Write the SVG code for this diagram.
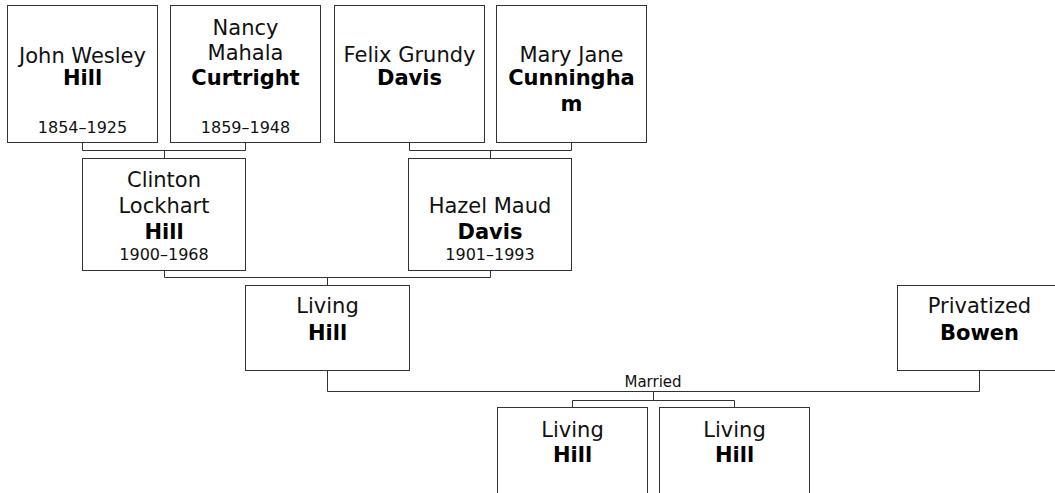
<svg xmlns="http://www.w3.org/2000/svg" width="1055" height="493" viewBox="0 0 1055 493">
<style>
rect.box{fill:#fff;stroke:#333;stroke-width:1}
.n{font-family:"DejaVu Sans",Verdana,sans-serif;font-size:21px;fill:#111;text-anchor:middle}
.s{font-weight:bold;fill:#000}
.y{font-family:"DejaVu Sans",Verdana,sans-serif;font-size:16px;fill:#111;text-anchor:middle}
.lbl{font-family:"DejaVu Sans",Verdana,sans-serif;font-size:15px;fill:#111;text-anchor:middle}
#connectors path{fill:none;stroke:#333;stroke-width:1}
</style>
<rect width="1055" height="493" fill="#fff"/>
<g id="connectors">
<path d="M82.5 142.5V150.5H245.5V142.5M164.5 150.5V158.5"/>
<path d="M409.5 142.5V150.5H571.5V142.5M490.5 150.5V158.5"/>
<path d="M164.5 270.5V277.5H490.5V270.5M327.5 277.5V285.5"/>
<path d="M327.5 370.5V391.5H979.5V370.5"/>
<path d="M653.5 391.5V400.5M572.5 407.5V400.5H734.5V407.5"/>
<text class="lbl" x="653" y="387">Married</text>
</g>
<g id="john">
<rect class="box" x="7.5" y="5.5" width="150" height="137"/>
<text class="n" x="82.5" y="63">John Wesley</text>
<text class="n s" x="82.5" y="85">Hill</text>
<text class="y" x="82.5" y="133">1854–1925</text>
</g>
<g id="nancy">
<rect class="box" x="170.5" y="5.5" width="150" height="137"/>
<text class="n" x="245.5" y="35">Nancy</text>
<text class="n" x="245.5" y="60">Mahala</text>
<text class="n s" x="245.5" y="85">Curtright</text>
<text class="y" x="245.5" y="133">1859–1948</text>
</g>
<g id="felix">
<rect class="box" x="334.5" y="5.5" width="150" height="137"/>
<text class="n" x="409.5" y="62">Felix Grundy</text>
<text class="n s" x="409.5" y="85">Davis</text>
</g>
<g id="mary">
<rect class="box" x="496.5" y="5.5" width="150" height="137"/>
<text class="n" x="571.5" y="62">Mary Jane</text>
<text class="n s" x="571.5" y="85">Cunningha</text>
<text class="n s" x="571.5" y="111">m</text>
</g>
<g id="clinton">
<rect class="box" x="82.5" y="158.5" width="163" height="112"/>
<text class="n" x="164" y="187">Clinton</text>
<text class="n" x="164" y="213">Lockhart</text>
<text class="n s" x="164" y="239">Hill</text>
<text class="y" x="164" y="260">1900–1968</text>
</g>
<g id="hazel">
<rect class="box" x="408.5" y="158.5" width="163" height="112"/>
<text class="n" x="490" y="213">Hazel Maud</text>
<text class="n s" x="490" y="239">Davis</text>
<text class="y" x="490" y="260">1901–1993</text>
</g>
<g id="living">
<rect class="box" x="245.5" y="285.5" width="164" height="85"/>
<text class="n" x="327.5" y="313">Living</text>
<text class="n s" x="327.5" y="340">Hill</text>
</g>
<g id="bowen">
<rect class="box" x="897.5" y="285.5" width="164" height="85"/>
<text class="n" x="979.5" y="313">Privatized</text>
<text class="n s" x="979.5" y="340">Bowen</text>
</g>
<g id="child1">
<rect class="box" x="497.5" y="407.5" width="150" height="86"/>
<text class="n" x="572.5" y="437">Living</text>
<text class="n s" x="572.5" y="462">Hill</text>
</g>
<g id="child2">
<rect class="box" x="659.5" y="407.5" width="150" height="86"/>
<text class="n" x="734.5" y="437">Living</text>
<text class="n s" x="734.5" y="462">Hill</text>
</g>
</svg>
